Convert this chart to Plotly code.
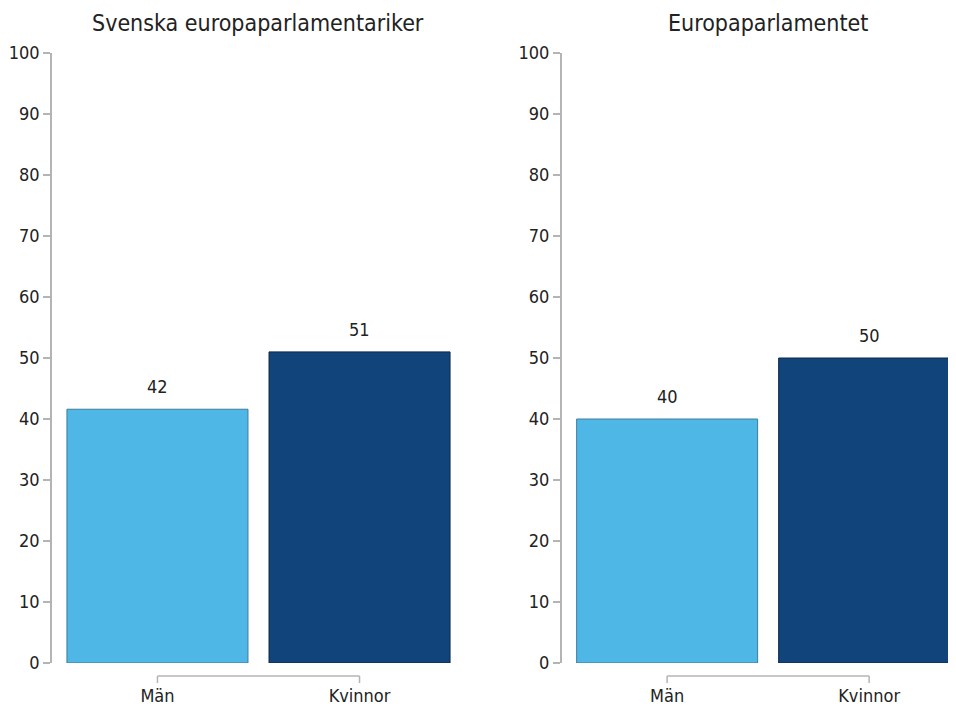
import plotly.graph_objects as go

# ---- data ----
categories = ["Män", "Kvinnor"]
titles = ["Svenska europaparlamentariker", "Europaparlamentet"]
values_se = [41.6, 51.0]
values_ep = [40.0, 50.0]
y_ticks = list(range(0, 101, 10))

colors = ["#4FB7E5", "#10447B"]
outline = ["#3F7C9C", "#0E2A48"]
FONT = "Liberation Sans Narrow, DejaVu Sans Condensed, Arial Narrow, sans-serif"
TXT = "#222222"
AX = "#b4b4b4"

# page body has an 8px margin; the figure is sized to fit inside the window
OFF = 8
W, H = 956 - OFF, 712 - OFF
PX_PER_CAT = 202
fig = go.Figure()

panels = [
    (values_se, "x", "y", [(52 - OFF) / W, (465 - OFF) / W], [-0.522, 1.522]),
    (values_ep, "x2", "y2", [(561.7 - OFF) / W, 1.0], [-0.522, 1.430]),
]

for i, (vals, xa, ya, dom, rng) in enumerate(panels):
    fig.add_trace(go.Bar(
        x=categories, y=vals, xaxis=xa, yaxis=ya,
        width=0.896,
        marker=dict(color=colors, line=dict(color=outline, width=1)),
        hoverinfo="skip", showlegend=False,
    ))
    sfx = "" if i == 0 else str(i + 1)
    fig.layout["xaxis" + sfx] = dict(
        domain=dom, range=rng, type="category",
        showline=False, showgrid=False, zeroline=False,
        ticks="outside", ticklen=16, tickcolor="rgba(0,0,0,0)",
        tickfont=dict(family=FONT, size=18, color=TXT),
        anchor=ya, fixedrange=True,
    )
    fig.layout["yaxis" + sfx] = dict(
        domain=[0, 1], range=[0, 100],
        tickvals=y_ticks, ticktext=[str(t) for t in y_ticks],
        showline=True, linecolor=AX, linewidth=1.5,
        ticks="outside", ticklen=7, tickcolor=AX, tickwidth=1.5,
        showgrid=False, zeroline=False,
        tickfont=dict(family=FONT, size=18, color=TXT),
        anchor=xa, fixedrange=True,
    )
    # value labels
    for c, v in zip(categories, vals):
        fig.add_annotation(
            x=c, y=v, xref=xa, yref=ya, text=f"{v:.0f}", showarrow=False,
            yanchor="bottom", yshift=10,
            font=dict(family=FONT, size=18, color=TXT),
        )
    # category bracket below the plot
    yb, yt = -13 / 610, -20 / 610
    dref = ya + " domain"
    fig.add_shape(type="line", xref=xa, yref=dref,
                  x0=categories[0], x1=categories[-1], y0=yb, y1=yb,
                  line=dict(color=AX, width=1.5))
    for c in categories:
        fig.add_shape(type="line", xref=xa, yref=dref,
                      x0=c, x1=c, y0=yb, y1=yt,
                      line=dict(color=AX, width=1.5))
    # panel title, centred over the full (unclipped) panel width
    cx = dom[0] + (1.522 - rng[0]) * PX_PER_CAT / 2 / W
    fig.add_annotation(
        x=cx, y=1, xref="paper", yref="paper", xanchor="center",
        yanchor="bottom", yshift=15,
        text=titles[i], showarrow=False,
        font=dict(family=FONT, size=23, color=TXT),
    )

fig.update_layout(
    width=W, height=H,
    margin=dict(l=0, r=0, t=45, b=49),
    paper_bgcolor="white", plot_bgcolor="white",
    bargap=0.1,
)
fig.write_html("out.html")
